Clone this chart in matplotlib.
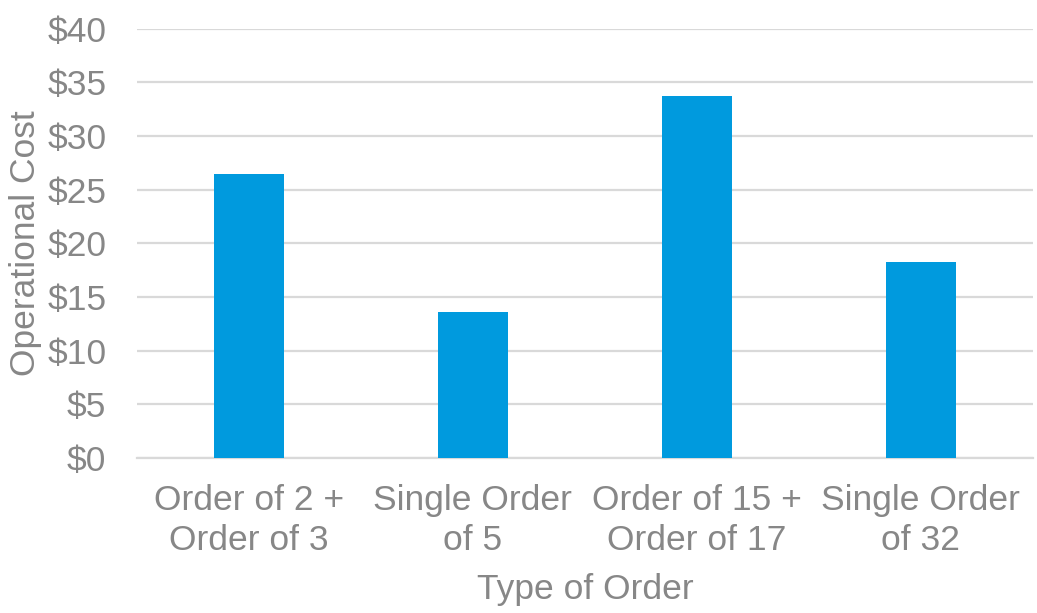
import matplotlib
matplotlib.use("Agg")
import matplotlib.pyplot as plt
from matplotlib.ticker import FuncFormatter

categories = ["Order of 2 +\nOrder of 3", "Single Order\nof 5",
              "Order of 15 +\nOrder of 17", "Single Order\nof 32"]
costs = [26.5, 13.6, 33.7, 18.3]

BAR_COLOR = "#009ADE"
TEXT_COLOR = "#878787"
GRID_COLOR = "#D9D9D9"
FONT_SIZE = 25.5

plt.rcParams["font.family"] = ["Liberation Sans", "DejaVu Sans"]

fig = plt.figure(figsize=(10.37, 6.13), dpi=100)
ax = fig.add_axes([0.132, 0.253, 0.864, 0.700])

x = range(len(categories))
ax.bar(x, costs, width=0.313, color=BAR_COLOR, zorder=3)

ax.set_xlim(-0.5, len(categories) - 0.5)
ax.set_ylim(0, 40)
ax.set_yticks(range(0, 41, 5))
ax.yaxis.set_major_formatter(FuncFormatter(lambda v, p: f"${v:.0f}"))
ax.set_xticks(list(x))
ax.set_xticklabels(categories, linespacing=1.27)

ax.grid(axis="y", color=GRID_COLOR, linewidth=1.6, zorder=0)
for side in ["top", "right", "left"]:
    ax.spines[side].set_visible(False)
ax.spines["bottom"].set_color(GRID_COLOR)
ax.spines["bottom"].set_linewidth(1.6)

ax.tick_params(axis="both", length=0, labelsize=FONT_SIZE, colors=TEXT_COLOR)
ax.tick_params(axis="y", pad=22)
ax.tick_params(axis="x", pad=19)

ax.set_ylabel("Operational Cost", fontsize=FONT_SIZE, color=TEXT_COLOR, labelpad=4)
ax.set_xlabel("Type of Order", fontsize=FONT_SIZE, color=TEXT_COLOR, labelpad=11)

fig.savefig("out.png", dpi=100, facecolor="white")
